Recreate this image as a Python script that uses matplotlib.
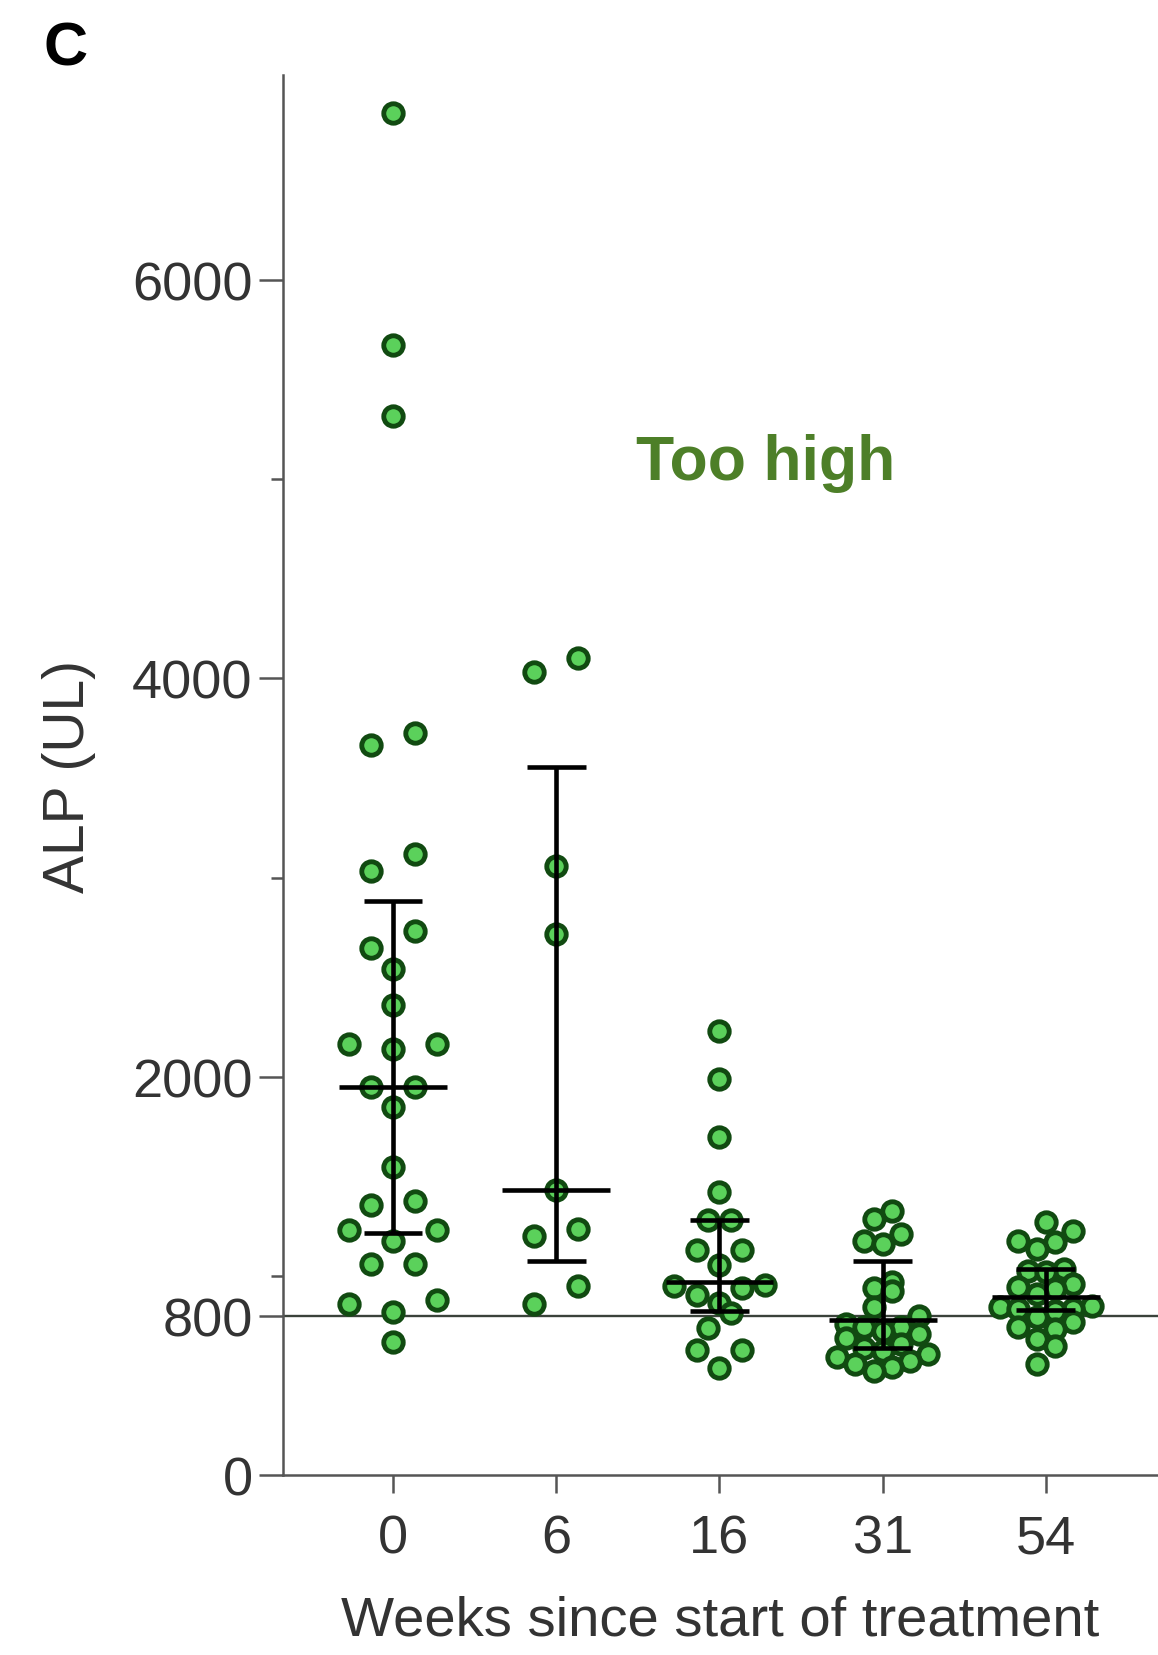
import numpy as np
import matplotlib
matplotlib.use('Agg')
import matplotlib.pyplot as plt

# ---------------- data ----------------
weeks = ['0', '6', '16', '31', '54']
alp_w0 = [6838, 5675, 5316, 3725, 3667, 3118, 3033, 2732, 2647, 2542, 2362,
          2166, 2140, 2166, 1950, 1849, 1950, 1548, 1358, 1374, 1231, 1173,
          1231, 1062, 1062, 877, 819, 861, 666]
alp_w6 = [4105, 4030, 3059, 2716, 1431, 1202, 1235, 951, 859]
alp_w16 = [2231, 1989, 1697, 1422, 1281, 1281, 1131, 1131, 1056, 955, 947,
           939, 906, 864, 814, 739, 630, 630, 539]
alp_w31 = [1327, 1286, 1210, 1177, 1160, 968, 940, 926, 842, 800, 759, 743,
           743, 725, 708, 690, 658, 640, 624, 608, 591, 574, 558, 541, 524]
alp_w54 = [1269, 1227, 1177, 1169, 1135, 1035, 1026, 1018, 959, 943, 934,
           909, 850, 842, 834, 834, 825, 792, 767, 742, 733, 683, 650, 558]
median_alp = [1950, 1431, 972, 780, 893]
q1_alp = [1215, 1076, 822, 640, 830]
q3_alp = [2885, 3556, 1281, 1076, 1035]
upper_limit = 800
y_major_ticks = [0, 800, 2000, 4000, 6000]
y_minor_ticks = [1000, 3000, 5000]

groups = [alp_w0, alp_w6, alp_w16, alp_w31, alp_w54]


def swarm_offsets(values, row_h, width, max_sp):
    """Prism-like column scatter: bin values into rows, spread symmetrically."""
    v = np.asarray(values, float)
    order = np.argsort(v, kind='stable')
    rows, cur, start = [], [order[0]], v[order[0]]
    for idx in order[1:]:
        if v[idx] - start < row_h:
            cur.append(idx)
        else:
            rows.append(cur)
            cur, start = [idx], v[idx]
    rows.append(cur)
    nmax = max(len(r) for r in rows)
    sp = max_sp if nmax < 2 else min(max_sp, width / (nmax - 1))
    off = np.zeros(len(v))
    for r in rows:
        n = len(r)
        if n % 2:
            slots = [0] + [s * k for k in range(1, n // 2 + 1) for s in (-1, 1)]
        else:
            slots = [s * (k - 0.5) for k in range(1, n // 2 + 1) for s in (-1, 1)]
        for idx, sl in zip(r, slots):
            off[idx] = sl * sp
    return off


plt.rcParams['font.family'] = ['Liberation Sans', 'DejaVu Sans']

W, H = 1158, 1656
fig = plt.figure(figsize=(W / 100, H / 100), dpi=100)
ax = fig.add_axes([283.2 / W, 1 - 1476.1 / H, (W - 283.2) / W, (1476.1 - 76) / H])

ax.set_xlim(-0.673, 4.687)
ax.set_ylim(0, 7030)

ax.axhline(upper_limit, color='#3a423a', lw=1.7, zorder=1)

for i, vals in enumerate(groups):
    off = swarm_offsets(vals, 95, 0.56, 0.27)
    ax.scatter(i + off, vals, s=14 ** 2, facecolor='#5bd15b',
               edgecolor='#114a11', linewidth=3.5, zorder=3, clip_on=False)

x = np.arange(len(weeks))
ax.vlines(x, q1_alp, q3_alp, color='black', lw=3.3, zorder=4)
ax.hlines(median_alp, x - 0.33, x + 0.33, color='black', lw=3.3, zorder=4)
ax.hlines(q1_alp, x - 0.18, x + 0.18, color='black', lw=3.3, zorder=4)
ax.hlines(q3_alp, x - 0.18, x + 0.18, color='black', lw=3.3, zorder=4)

ax.text(2.285, 5083, 'Too high', color='#4d7f28', fontsize=45,
        fontweight='bold', ha='center', va='center')

for s in ('top', 'right'):
    ax.spines[s].set_visible(False)
for s in ('left', 'bottom'):
    ax.spines[s].set_color('#555555')
    ax.spines[s].set_linewidth(1.8)

ax.set_xticks(x)
ax.set_xticklabels(weeks)
ax.set_yticks(y_major_ticks)
ax.set_yticks(y_minor_ticks, minor=True)
ax.tick_params(axis='both', which='major', labelsize=39, labelcolor='#333333',
               color='#555555', width=1.8)
ax.tick_params(axis='y', which='major', length=17, pad=5)
ax.tick_params(axis='y', which='minor', length=9, width=1.8, color='#555555')
ax.tick_params(axis='x', which='major', length=13, pad=15)

ax.set_xlabel('Weeks since start of treatment', fontsize=40.5, color='#333333')
ax.set_ylabel('ALP (UL)', fontsize=41, color='#333333')
ax.xaxis.label.set_va('center')
ax.yaxis.label.set_va('center')
ax.xaxis.set_label_coords(0.5, (1476.1 - 1622) / 1400.1)
ax.yaxis.set_label_coords((69 - 283.2) / (W - 283.2), 0.5)

fig.text(65.5 / W, 1 - 50 / H, 'C', fontsize=44, fontweight='bold',
         ha='center', va='center')

fig.savefig('out.png', dpi=100, facecolor='white')
